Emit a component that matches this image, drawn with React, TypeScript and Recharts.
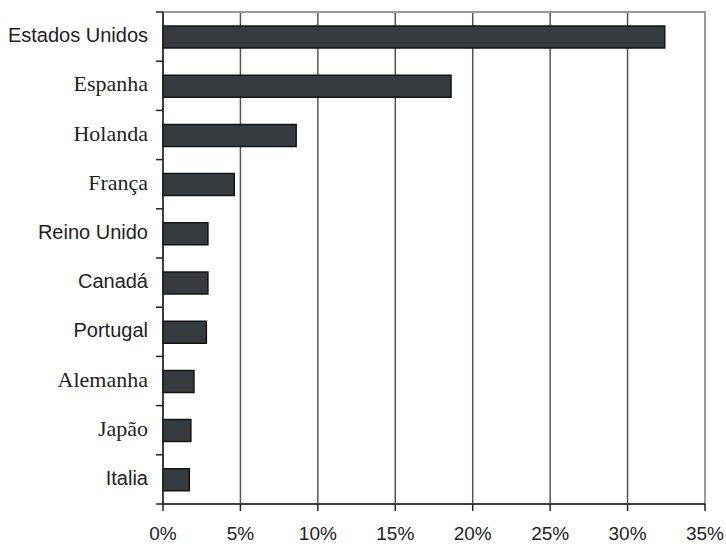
import { BarChart, Bar, XAxis, YAxis, CartesianGrid, ReferenceArea } from 'recharts'

const countries = [
  'Estados Unidos',
  'Espanha',
  'Holanda',
  'França',
  'Reino Unido',
  'Canadá',
  'Portugal',
  'Alemanha',
  'Japão',
  'Italia',
]
const shares = [32.4, 18.6, 8.6, 4.6, 2.9, 2.9, 2.8, 2.0, 1.8, 1.7]
const serifLabels = ['Espanha', 'Holanda', 'França', 'Alemanha', 'Japão']
const xTicks = [0, 5, 10, 15, 20, 25, 30, 35]

const data = countries.map((name, i) => ({ name, value: shares[i] }))

const BAND = 49.2

// category label plus the small tick marks that sit between the rows
const CountryTick = (props: any) => {
  const { x, y, payload, index } = props
  const serif = serifLabels.includes(payload.value)
  const last = index === countries.length - 1
  const top = y - BAND / 2
  const bottom = y + BAND / 2
  return (
    <g>
      <path d={`M${x - 7},${top}H${x}`} stroke="#222" strokeWidth={1.5} fill="none" />
      {last && <path d={`M${x - 7},${bottom}H${x}`} stroke="#222" strokeWidth={1.5} fill="none" />}
      <text
        x={x - 15}
        y={y + 5.5}
        textAnchor="end"
        fill="#1e1e1e"
        fontSize={serif ? 22 : 20}
        fontFamily={serif ? '"Liberation Serif", serif' : '"Liberation Sans", Arial, sans-serif'}
      >
        {payload.value}
      </text>
    </g>
  )
}

export default function App() {
  return (
    <div style={{ position: 'absolute', left: 0, top: 0, background: '#fff' }}>
      <BarChart
        width={726}
        height={544}
        data={data}
        layout="vertical"
        margin={{ top: 12, right: 21, left: 0, bottom: 0 }}
        barCategoryGap={0}
      >
        <CartesianGrid
          horizontal={false}
          vertical
          stroke="#555"
          strokeWidth={1.5}
          verticalValues={[5, 10, 15, 20, 25, 30]}
        />
        <ReferenceArea x1={0} x2={35} fill="none" stroke="#999" strokeWidth={2} />
        <XAxis
          type="number"
          domain={[0, 35]}
          ticks={xTicks}
          tickFormatter={(v) => `${v}%`}
          height={40}
          tickSize={7}
          tickMargin={16}
          tick={{ fontSize: 19, fill: '#222', fontFamily: '"Liberation Sans", Arial, sans-serif' }}
          tickLine={{ stroke: '#222', strokeWidth: 1.5 }}
          axisLine={{ stroke: '#222', strokeWidth: 1.5 }}
        />
        <YAxis
          type="category"
          dataKey="name"
          width={163}
          tickSize={0}
          tickMargin={0}
          tickLine={false}
          interval={0}
          tick={<CountryTick />}
          axisLine={{ stroke: '#222', strokeWidth: 1.5 }}
        />
        <Bar
          dataKey="value"
          fill="#353b3e"
          stroke="#141414"
          strokeWidth={1.5}
          barSize={22}
          isAnimationActive={false}
        />
      </BarChart>
    </div>
  )
}
